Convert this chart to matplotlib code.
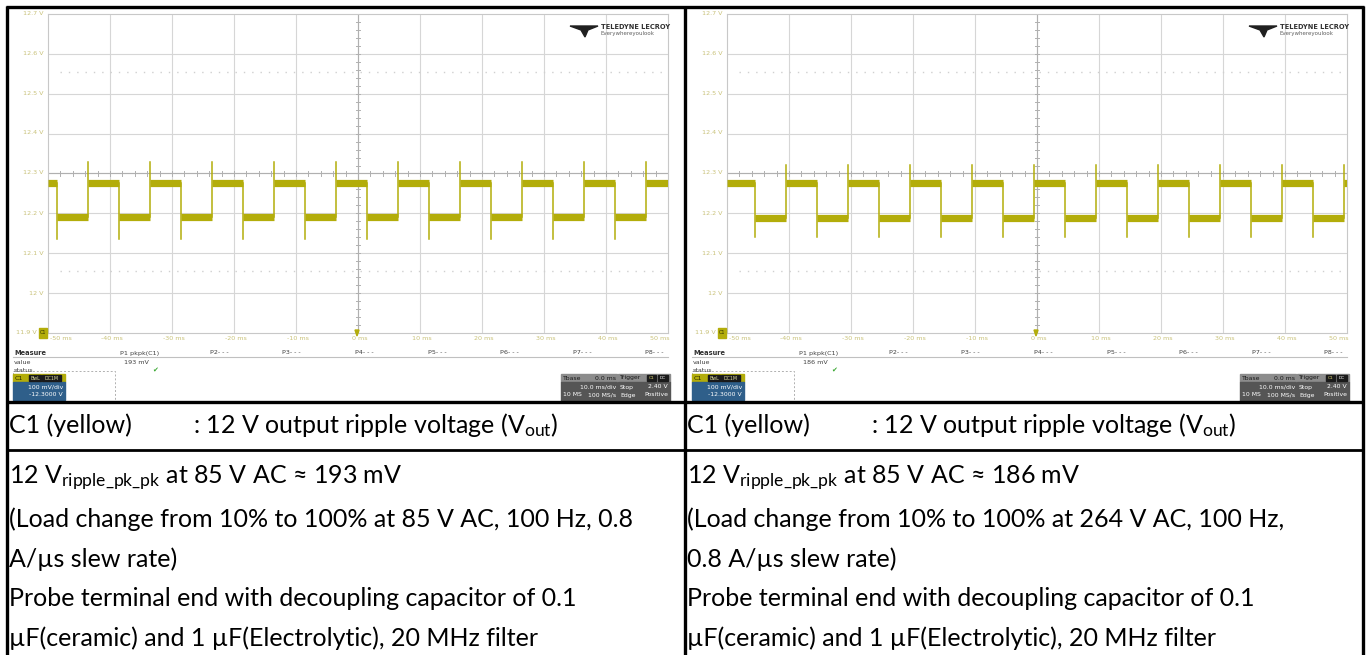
import matplotlib
matplotlib.use('Agg')
import matplotlib.pyplot as plt
from matplotlib.patches import Rectangle, Polygon

##########DATA##########
time_ticks = [-50, -40, -30, -20, -10, 0, 10, 20, 30, 40, 50]
time_labels = ['-50 ms', '-40 ms', '-30 ms', '-20 ms', '-10 ms', '0 ms',
               '10 ms', '20 ms', '30 ms', '40 ms', '50 ms']
volt_ticks = [11.9, 12.0, 12.1, 12.2, 12.3, 12.4, 12.5, 12.6, 12.7]
volt_labels = ['11.9 V', '12 V', '12.1 V', '12.2 V', '12.3 V', '12.4 V', '12.5 V', '12.6 V', '12.7 V']

# edge times (ms)
left_rise = [-43.5, -33.5, -23.5, -13.5, -3.5, 6.5, 16.5, 26.5, 36.5, 46.5]
left_fall = [-48.5, -38.5, -28.5, -18.5, -8.5, 1.5, 11.5, 21.5, 31.5, 41.5]
right_rise = [-40.5, -30.5, -20.5, -10.5, -0.5, 9.5, 19.5, 29.5, 39.5, 49.5]
right_fall = [-45.5, -35.5, -25.5, -15.5, -5.5, 4.5, 14.5, 24.5, 34.5, 44.5]

# levels (V): high, low, overshoot on rise, undershoot on fall
left_levels = [12.277, 12.19, 12.328, 12.135]
right_levels = [12.277, 12.188, 12.322, 12.14]

pkpk_values = ['193 mV', '186 mV']

row_top = 'C1 (yellow)'
row_top2 = r': 12 V output ripple voltage (V$_{\mathrm{out}}$)'
row_pk = [r'12 V$_{\mathrm{ripple\_pk\_pk}}$ at 85 V AC ≈ 193 mV',
          r'12 V$_{\mathrm{ripple\_pk\_pk}}$ at 85 V AC ≈ 186 mV']
row_load = [['(Load change from 10% to 100% at 85 V AC, 100 Hz, 0.8', 'A/µs slew rate)'],
            ['(Load change from 10% to 100% at 264 V AC, 100 Hz,', '0.8 A/µs slew rate)']]
row_probe = ['Probe terminal end with decoupling capacitor of 0.1',
             'µF(ceramic) and 1 µF(Electrolytic), 20 MHz filter']

##########STYLE##########
plt.rcParams['font.family'] = ['Lato', 'DejaVu Sans']
plt.rcParams['mathtext.fontset'] = 'custom'
plt.rcParams['mathtext.rm'] = 'Lato'
plt.rcParams['mathtext.it'] = 'Lato:italic'

W, H = 1370, 655
TRACE = '#b3ad0a'
LABEL = '#c9c27a'
GRID = '#d6d6d6'
SMALL = 'DejaVu Sans Condensed'

fig = plt.figure(figsize=(W / 100, H / 100), dpi=100)
fig.patch.set_facecolor('white')
base = fig.add_axes([0, 0, 1, 1])
base.set_xlim(0, W)
base.set_ylim(H, 0)
base.axis('off')
base.set_zorder(5)


def scope(x_off, rise, fall, levels, pkpk):
    hi, lo, up, dn = levels
    ax = fig.add_axes([(48 + x_off) / W, 1 - 333 / H, 620 / W, 319 / H])
    ax.set_zorder(1)
    ax.set_xlim(-50, 50)
    ax.set_ylim(11.9, 12.7)
    for s in ax.spines.values():
        s.set_color('#c8c8c8')
        s.set_linewidth(0.8)
    ax.set_xticks([])
    ax.set_yticks([])
    for t in time_ticks[1:-1]:
        ax.axvline(t, color=GRID, lw=0.8, zorder=0)
    for v in volt_ticks[1:-1]:
        ax.axhline(v, color=GRID, lw=0.8, zorder=0)
    # center cross with minor ticks
    ax.axvline(0, color='#b0b0b0', lw=0.8, zorder=0)
    ax.axhline(12.3, color='#b0b0b0', lw=0.8, zorder=0)
    for t in range(-50, 51, 2):
        ax.plot([t, t], [12.294, 12.306], color='#b0b0b0', lw=0.7, zorder=0)
    for k in range(0, 41):
        v = 11.9 + k * 0.02
        ax.plot([-0.35, 0.35], [v, v], color='#b0b0b0', lw=0.7, zorder=0)
    # dotted level markers
    for v in [12.555, 12.055]:
        ax.plot([-48, 50], [v, v], color='#d0d0d0', lw=1.0, ls=(0, (1, 5)), zorder=0)

    # trace: flat segments as thick bands, edges as thin lines
    edges = sorted([(t, 'r') for t in rise] + [(t, 'f') for t in fall])
    start = -50
    state = 'h' if edges[0][1] == 'f' else 'l'
    for t, kind in edges + [(50, 'end')]:
        lvl = hi if state == 'h' else lo
        ax.plot([start, t], [lvl, lvl], color=TRACE, lw=5.2, solid_capstyle='butt', zorder=3)
        if kind == 'r':
            ax.plot([t, t], [lo, up], color=TRACE, lw=1.1, zorder=3)
            state = 'h'
        elif kind == 'f':
            ax.plot([t, t], [hi, dn], color=TRACE, lw=1.1, zorder=3)
            state = 'l'
        start = t

    # labels
    for v, lab in zip(volt_ticks, volt_labels):
        xr = 37 if v == 11.9 else 44
        base.text(x_off + xr, 333 - (v - 11.9) * 400, lab, color=LABEL, fontsize=4.6,
                  ha='right', va='center', family='DejaVu Sans')
    for t, lab in zip(time_ticks, time_labels):
        ha = 'left' if t == -50 else ('right' if t == 50 else 'center')
        base.text(x_off + 50 + (t + 50) * 6.2, 339, lab, color=LABEL, fontsize=4.6,
                  ha=ha, va='center', family='DejaVu Sans')
    # channel marker and trigger marker
    base.add_patch(Rectangle((x_off + 39, 328), 8, 10, color=TRACE, zorder=5))
    base.text(x_off + 43, 333, 'C1', fontsize=3.5, ha='center', va='center', color='#333300',
              family='DejaVu Sans', zorder=6)
    base.add_patch(Polygon([(x_off + 355, 330), (x_off + 359, 330), (x_off + 357, 336)],
                           color=TRACE, zorder=5))

    # logo
    base.add_patch(Polygon([(x_off + 570, 26), (x_off + 598, 26), (x_off + 588, 30),
                            (x_off + 585, 37), (x_off + 581, 30)], color='#202020'))
    base.text(x_off + 601, 27, 'TELEDYNE LECROY', fontsize=4.8, fontweight='bold',
              color='#303030', va='center', family=SMALL)
    base.text(x_off + 601, 33, 'Everywhereyoulook', fontsize=4.0, color='#606060',
              va='center', family=SMALL)

    # measure table
    base.plot([x_off + 13, x_off + 668], [357, 357], color='#c0c0c0', lw=0.8)
    base.text(x_off + 14, 353, 'Measure', fontsize=4.8, fontweight='bold', color='#303030',
              va='center', family=SMALL)
    base.text(x_off + 14, 362, 'value', fontsize=4.6, color='#404040', va='center', family=SMALL)
    base.text(x_off + 14, 370, 'status', fontsize=4.6, color='#404040', va='center', family=SMALL)
    base.text(x_off + 120, 353, 'P1 pkpk(C1)', fontsize=4.6, color='#404040', va='center',
              family=SMALL)
    base.text(x_off + 149, 362, pkpk, fontsize=4.6, color='#404040', va='center', ha='right',
              family=SMALL)
    base.text(x_off + 155, 370, '✔', fontsize=5, color='#3aa832', va='center', ha='center',
              family='DejaVu Sans')
    for px, name in zip([210, 282, 355, 428, 500, 573, 645], ['P2', 'P3', 'P4', 'P5', 'P6', 'P7', 'P8']):
        base.text(x_off + px, 353, name + '- - -', fontsize=4.6, color='#404040', va='center',
                  family=SMALL)

    # channel descriptor box
    base.add_patch(Rectangle((x_off + 13, 371), 102, 30, fill=False, ec='#b0b0b0',
                             lw=0.7, ls=(0, (2, 2))))
    base.add_patch(Rectangle((x_off + 13, 374), 52, 8, color='#b3ad0a'))
    base.add_patch(Rectangle((x_off + 13, 382), 52, 18, color='#2f5f8a'))
    base.text(x_off + 15, 378, 'C1', fontsize=4.6, color='#2a2a00', va='center', family=SMALL)
    base.add_patch(Rectangle((x_off + 29, 375), 12, 6, color='#1a1a1a'))
    base.add_patch(Rectangle((x_off + 42, 375), 19, 6, color='#1a1a1a'))
    base.text(x_off + 35, 378, 'BwL', fontsize=3.4, color='#e0e0a0', va='center', ha='center',
              family=SMALL)
    base.text(x_off + 51.5, 378, 'DC1M', fontsize=3.4, color='#e0e0a0', va='center', ha='center',
              family=SMALL)
    base.text(x_off + 63, 387, '100 mV/div', fontsize=4.4, color='white', va='center', ha='right',
              family=SMALL)
    base.text(x_off + 63, 395, '-12.3000 V', fontsize=4.4, color='white', va='center', ha='right',
              family=SMALL)

    # timebase and trigger boxes
    base.add_patch(Rectangle((x_off + 561, 374), 56, 8, color='#8c8c8c'))
    base.add_patch(Rectangle((x_off + 561, 382), 56, 19, color='#555555'))
    base.add_patch(Rectangle((x_off + 618, 374), 52, 8, color='#8c8c8c'))
    base.add_patch(Rectangle((x_off + 618, 382), 52, 19, color='#555555'))
    tb = dict(fontsize=4.4, va='center', family=SMALL)
    base.text(x_off + 563, 378, 'Tbase', color='#1a1a1a', **tb)
    base.text(x_off + 616, 378, '0.0 ms', color='#1a1a1a', ha='right', **tb)
    base.text(x_off + 616, 387, '10.0 ms/div', color='white', ha='right', **tb)
    base.text(x_off + 563, 395, '10 MS', color='white', **tb)
    base.text(x_off + 616, 395, '100 MS/s', color='white', ha='right', **tb)
    base.text(x_off + 620, 378, 'Trigger', color='#1a1a1a', **tb)
    base.add_patch(Rectangle((x_off + 647, 375), 9, 6, color='#1a1a1a'))
    base.add_patch(Rectangle((x_off + 658, 375), 10, 6, color='#1a1a1a'))
    base.text(x_off + 651.5, 378, 'C1', fontsize=3.2, color='#d8d070', ha='center', va='center',
              family=SMALL)
    base.text(x_off + 663, 378, 'DC', fontsize=3.2, color='white', ha='center', va='center',
              family=SMALL)
    base.text(x_off + 620, 387, 'Stop', color='white', **tb)
    base.text(x_off + 668, 387, '2.40 V', color='white', ha='right', **tb)
    base.text(x_off + 620, 395, 'Edge', color='white', **tb)
    base.text(x_off + 668, 395, 'Positive', color='white', ha='right', **tb)


scope(0, left_rise, left_fall, left_levels, pkpk_values[0])
scope(679, right_rise, right_fall, right_levels, pkpk_values[1])

##########TABLE TEXT##########
FS = 18
txt = dict(fontsize=FS, va='center', color='black')
for i, x0 in enumerate([9, 687]):
    base.text(x0, 425, row_top, **txt)
    base.text(x0 + 184, 425, row_top2, **txt)
    base.text(x0, 478, row_pk[i], **txt)
    base.text(x0, 519, row_load[i][0], **txt)
    base.text(x0, 559, row_load[i][1], **txt)
    base.text(x0, 599, row_probe[0], **txt)
    base.text(x0, 638, row_probe[1], **txt)

# table borders
bw = dict(color='black', solid_capstyle='butt')
base.plot([6, 1364], [7, 7], lw=2.4, **bw)
base.plot([6, 1364], [402, 402], lw=2.4, **bw)
base.plot([6, 1364], [450, 450], lw=2.0, **bw)
base.plot([7, 7], [6, 655], lw=2.4, **bw)
base.plot([685, 685], [6, 655], lw=2.4, **bw)
base.plot([1363, 1363], [6, 655], lw=2.4, **bw)

fig.savefig('out.png', dpi=100, facecolor='white')
